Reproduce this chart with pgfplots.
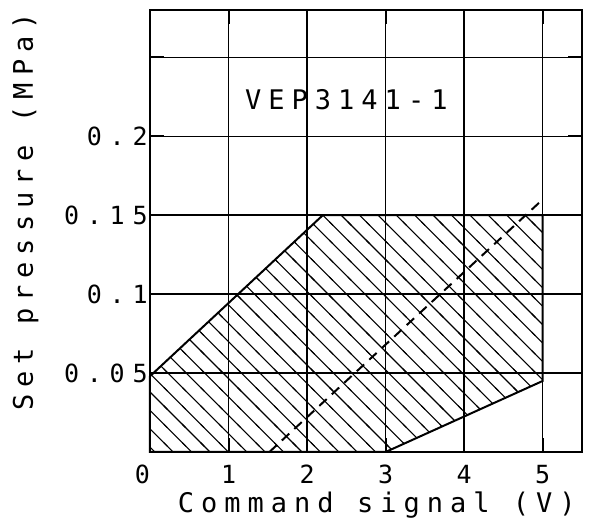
\documentclass[border=0pt]{standalone}
\usepackage{fontspec}
\usepackage{pgfplots}
\pgfplotsset{compat=1.18}
\usetikzlibrary{patterns}
\newfontfamily\tickfont[LetterSpace=31]{DejaVu Sans Mono}
\newfontfamily\labelfont[LetterSpace=26]{DejaVu Sans Mono}
\newcommand\tf{\tickfont\fontsize{12.5}{15}\selectfont}
\newcommand\lf{\labelfont\fontsize{13.5}{16}\selectfont}
% wide diagonal hatch, lines running top-left to bottom-right
\pgfdeclarepatternformonly{hatch}{\pgfpoint{-1pt}{-1pt}}{\pgfpoint{10.2pt}{10.2pt}}{\pgfpoint{9.2pt}{9.2pt}}{
  \pgfsetlinewidth{0.55pt}
  \pgfpathmoveto{\pgfpoint{-1pt}{10.2pt}}
  \pgfpathlineto{\pgfpoint{10.2pt}{-1pt}}
  \pgfusepath{stroke}
}
\begin{document}
\begin{tikzpicture}
\useasboundingbox (-75pt,-33pt) rectangle (219.5pt,226pt);
\begin{axis}[
    at={(0,0)}, anchor=south west,
    scale only axis,
    width=216pt, height=221pt,
    xmin=0, xmax=5.5,
    ymin=0, ymax=0.28,
    xtick={0,1,2,3,4,5},
    xticklabels={\makebox[0pt][r]{0},1,2,3,4,5},
    ytick={0.05,0.1,0.15,0.2,0.25},
    yticklabels={0.05,0.1,0.15,0.2,{}},
    grid=major,
    major grid style={black, line width=0.75pt},
    axis line style={black, line width=1.1pt},
    tick align=inside,
    major tick length=7pt,
    tick style={black, line width=1pt},
    xticklabel style={font=\tf, yshift=-3pt},
    yticklabel style={font=\tf, inner sep=1pt},
    xlabel={Command signal (V)},
    ylabel={Set pressure (MPa)},
    xlabel style={font=\lf, at={(axis description cs:0.525,0)}, anchor=north, inner sep=0pt, yshift=-19.5pt},
    ylabel style={font=\lf, at={(axis description cs:0,0.543)}, anchor=base, inner sep=0pt, yshift=58.5pt},
    clip=false,
]
% hatched operating range
\addplot[draw=black, line width=1pt, pattern=hatch]
    coordinates {(0,0.048) (2.2,0.15) (5,0.15) (5,0.045) (3,0) (0,0)} -- cycle;
% nominal characteristic
\addplot[black, line width=1pt, dash pattern=on 5pt off 3.5pt]
    coordinates {(1.52,0) (5,0.16)};
\node[font=\lf, inner sep=0pt] at (axis cs:2.5,0.223) {VEP3141-1};
\end{axis}
\end{tikzpicture}
\end{document}
